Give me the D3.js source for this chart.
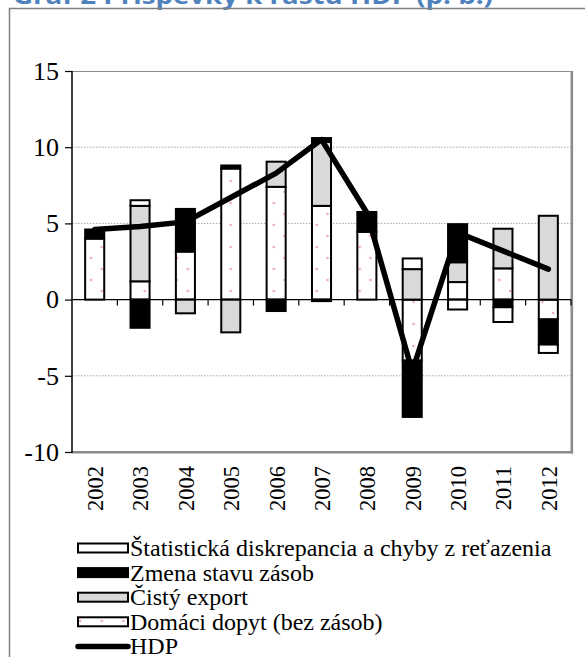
<!DOCTYPE html>
<html><head><meta charset="utf-8">
<script src="https://cdn.jsdelivr.net/npm/d3@7"></script>
<style>html,body{margin:0;padding:0;background:#fff;overflow:hidden}</style>
</head><body>
<script>
const years = ["2002","2003","2004","2005","2006","2007","2008","2009","2010","2011","2012"];
const domestic    = [4.0, 1.2, 3.15, 8.6, 7.4, 6.15, 4.45, -4.0, 1.15, 2.05, -1.3];
const netExport   = [0.0, 4.95, -0.9, -2.15, 1.65, 4.2, 0.0, 2.0, 1.3, 2.6, 5.5];
const inventory   = [0.6, -1.85, 2.8, 0.2, -0.75, 0.25, 1.3, -3.7, 2.5, -0.5, -1.65];
const discrepancy = [0.0, 0.37, 0.0, 0.0, 0.0, -0.1, 0.0, 0.7, -0.65, -0.97, -0.55];
const hdp         = [4.6, 4.8, 5.1, 6.7, 8.3, 10.5, 5.7, -4.7, 4.4, 3.2, 2.0];
const yTicks = [-10, -5, 0, 5, 10, 15];
const gridValues = [-5, 5, 10];
const seriesNames = ["Domáci dopyt (bez zásob)", "Čistý export", "Zmena stavu zásob", "Štatistická diskrepancia a chyby z reťazenia"];
const legendNames = ["Štatistická diskrepancia a chyby z reťazenia", "Zmena stavu zásob", "Čistý export", "Domáci dopyt (bez zásob)", "HDP"];
const titleText = "Graf 2 Príspevky k rastu HDP (p. b.)";

const W = 585, H = 657;
const serif = "'Liberation Serif', 'Times New Roman', serif";
const svg = d3.select("body").append("svg").attr("width", W).attr("height", H);
const defs = svg.append("defs");
const pat = defs.append("pattern").attr("id","dots").attr("patternUnits","userSpaceOnUse")
  .attr("width",21.5).attr("height",22);
pat.append("rect").attr("width",21.5).attr("height",22).attr("fill","#fff");
pat.append("circle").attr("cx",5).attr("cy",16).attr("r",1.3).attr("fill","#f0a8b4");
pat.append("circle").attr("cx",15.75).attr("cy",5).attr("r",1.3).attr("fill","#f0a8b4");

const fills = ["url(#dots)", "#d9d9d9", "#000000", "#ffffff"];

// title (clipped at top)
svg.append("text").attr("x",13).attr("y",3.5)
  .attr("font-family","'Open Sans', 'Liberation Sans', sans-serif").attr("font-weight","bold")
  .attr("font-size",24).attr("fill","#4f81bd")
  .attr("textLength",480).attr("lengthAdjust","spacingAndGlyphs")
  .text(titleText);

// outer frame
svg.append("path").attr("d","M9.5,657 V8.5 H585").attr("fill","none").attr("stroke","#7f7f7f").attr("stroke-width",1.5);

const x = d3.scaleBand().domain(years).range([72,571]).paddingInner(0.58).paddingOuter(0.29);
const y = d3.scaleLinear().domain([-10,15]).range([452,71]);

// gridlines
svg.append("g").selectAll("line").data(gridValues).join("line")
  .attr("x1",72).attr("x2",571).attr("y1",d=>y(d)).attr("y2",d=>y(d))
  .attr("stroke","#a6a6a6").attr("stroke-width",1).attr("stroke-dasharray","1.5,1.5");

// plot box
svg.append("line").attr("x1",72).attr("x2",572).attr("y1",y(15)+0.5).attr("y2",y(15)+0.5).attr("stroke","#8c8c8c").attr("stroke-width",1.2);
svg.append("line").attr("x1",571.8).attr("x2",571.8).attr("y1",y(15)).attr("y2",y(-10)+1.5).attr("stroke","#8c8c8c").attr("stroke-width",2.6);
svg.append("line").attr("x1",72).attr("x2",573).attr("y1",y(-10)+0.3).attr("y2",y(-10)+0.3).attr("stroke","#8c8c8c").attr("stroke-width",2.6);

// stacked segments
const series = [domestic, netExport, inventory, discrepancy];
const segs = [];
years.forEach((yr,i)=>{
  let pos=0, neg=0;
  series.forEach((s,k)=>{
    const v = s[i];
    if (v===0) return;
    let y0,y1;
    if (v>0){ y0=pos; y1=pos+v; pos=y1; } else { y0=neg; y1=neg+v; neg=y1; }
    segs.push({yr, k, y0, y1});
  });
});
svg.append("g").selectAll("rect").data(segs).join("rect")
  .attr("x",d=>x(d.yr)).attr("width",x.bandwidth())
  .attr("y",d=>y(Math.max(d.y0,d.y1))).attr("height",d=>Math.abs(y(d.y0)-y(d.y1)))
  .attr("fill",d=>fills[d.k]).attr("stroke","#000").attr("stroke-width",2);

// y axis
const yAxis = svg.append("g").attr("transform","translate(72,0)")
  .call(d3.axisLeft(y).tickValues(yTicks).tickSize(7).tickPadding(6).tickFormat(d=>String(d)));
yAxis.select(".domain").attr("stroke","#000").attr("stroke-width",1.5).attr("d","M0,"+y(15)+"V"+(y(-10)+1));
yAxis.selectAll(".tick line").attr("stroke","#000").attr("stroke-width",1.2);
yAxis.selectAll("text").attr("font-family",serif).attr("font-size",26).attr("fill","#000");

// x axis at zero
const xg = svg.append("g");
xg.append("line").attr("x1",72).attr("x2",571).attr("y1",y(0)).attr("y2",y(0)).attr("stroke","#000").attr("stroke-width",1.2);
xg.selectAll("line.tk").data(years).join("line").attr("class","tk")
  .attr("x1",d=>x(d)-x.step()*x.paddingOuter()+x.step()).attr("x2",d=>x(d)-x.step()*x.paddingOuter()+x.step())
  .attr("y1",y(0)).attr("y2",y(0)+6).attr("stroke","#000").attr("stroke-width",1.2);

// year labels
svg.append("g").selectAll("text").data(years).join("text")
  .attr("transform",d=>`translate(${x(d)+x.bandwidth()/2+0.5},466) rotate(-90)`)
  .attr("text-anchor","end").attr("dy","0.35em")
  .attr("font-family",serif).attr("font-size",22.5)
  .text(d=>d);

// HDP line
const line = d3.line().x((d,i)=>x(years[i])+x.bandwidth()/2).y(d=>y(d));
svg.append("path").datum(hdp).attr("d",line).attr("fill","none").attr("stroke","#000")
  .attr("stroke-width",5.5).attr("stroke-linejoin","round").attr("stroke-linecap","round");

// legend
const lg = svg.append("g");
const legendFills = ["#ffffff", "#000000", "#d9d9d9", "url(#dots)"];
legendNames.forEach((name,i)=>{
  const cy = 548 + i*24.6;
  if (i<4){
    lg.append("rect").attr("x",78).attr("y",cy-4.5).attr("width",50).attr("height",9)
      .attr("fill",legendFills[i]).attr("stroke","#000").attr("stroke-width",2);
  } else {
    lg.append("line").attr("x1",78).attr("x2",128).attr("y1",cy).attr("y2",cy)
      .attr("stroke","#000").attr("stroke-width",5.5).attr("stroke-linecap","round");
  }
  lg.append("text").attr("x",130).attr("y",cy+8)
    .attr("font-family",serif).attr("font-size",24)
    .text(name);
});
</script>
</body></html>
